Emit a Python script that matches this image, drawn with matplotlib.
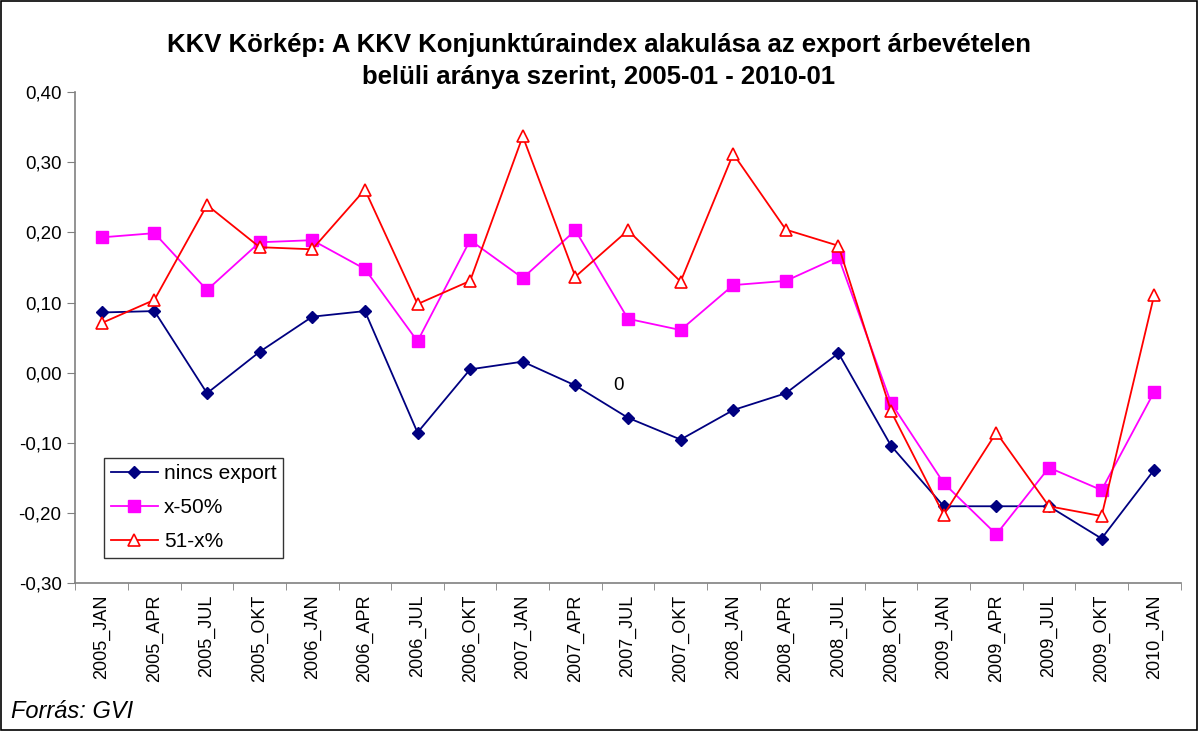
import matplotlib
matplotlib.use("Agg")
import matplotlib.pyplot as plt
from matplotlib.ticker import FixedLocator, FuncFormatter
from matplotlib.patches import Rectangle

plt.rcParams['font.family'] = ['Liberation Sans', 'DejaVu Sans']

categories = ["2005_JAN", "2005_APR", "2005_JUL", "2005_OKT", "2006_JAN", "2006_APR",
              "2006_JUL", "2006_OKT", "2007_JAN", "2007_APR", "2007_JUL", "2007_OKT",
              "2008_JAN", "2008_APR", "2008_JUL", "2008_OKT", "2009_JAN", "2009_APR",
              "2009_JUL", "2009_OKT", "2010_JAN"]

nincs_export = [0.086, 0.088, -0.029, 0.030, 0.080, 0.088, -0.085, 0.005, 0.016, -0.018,
                -0.064, -0.095, -0.053, -0.029, 0.028, -0.104, -0.190, -0.190, -0.190,
                -0.236, -0.138]
x_50 = [0.193, 0.199, 0.118, 0.186, 0.189, 0.148, 0.045, 0.189, 0.135, 0.203, 0.077,
        0.061, 0.125, 0.131, 0.165, -0.043, -0.157, -0.230, -0.135, -0.167, -0.027]
x_51 = [0.071, 0.104, 0.239, 0.179, 0.176, 0.261, 0.098, 0.131, 0.337, 0.137, 0.203,
        0.130, 0.312, 0.204, 0.181, -0.055, -0.202, -0.085, -0.190, -0.204, 0.111]

yticks = [-0.30, -0.20, -0.10, 0.00, 0.10, 0.20, 0.30, 0.40]

fig = plt.figure(figsize=(11.98, 7.31), dpi=100)
ax = fig.add_axes([0.063, 0.2018, 0.9224, 0.6723])

xs = list(range(len(categories)))
ax.plot(xs, nincs_export, color='#000080', lw=1.3, marker='D', ms=6.5,
        mfc='#000080', mec='#000080', label='nincs export', zorder=3)
ax.plot(xs, x_50, color='#FF00FF', lw=1.3, marker='s', ms=8,
        mfc='#FF00FF', mec='#FF00FF', label='x-50%', zorder=3)
ax.plot(xs, x_51, color='#FF0000', lw=1.3, marker='^', ms=9,
        mfc='white', mec='#FF0000', mew=1.2, label='51-x%', zorder=4)

ax.text(9.82, -0.018, "0", fontsize=13.5, ha='center', va='center')

ax.set_xlim(-0.5, len(categories) - 0.5)
ax.set_ylim(-0.30, 0.40)
ax.set_yticks(yticks)
ax.yaxis.set_major_formatter(FuncFormatter(lambda v, p: f"{v:.2f}".replace('.', ',').replace('-0,00', '0,00')))
ax.set_xticks(xs)
ax.set_xticklabels(categories, rotation=90, fontsize=13)
ax.xaxis.set_minor_locator(FixedLocator([i - 0.5 for i in range(len(categories) + 1)]))
ax.tick_params(axis='x', which='major', length=0, pad=8)
ax.tick_params(axis='x', which='minor', length=5, color='#808080', direction='out')
ax.tick_params(axis='y', length=6, color='#808080', labelsize=13.5, direction='out', pad=4)

for s in ['top', 'right']:
    ax.spines[s].set_visible(False)
for s in ['left', 'bottom']:
    ax.spines[s].set_color('#808080')
    ax.spines[s].set_linewidth(1.2)

leg = ax.legend(loc='lower left', bbox_to_anchor=(0.0258, 0.052), fontsize=15,
                frameon=True, fancybox=False, edgecolor='black', borderpad=0.33,
                labelspacing=0.71, handlelength=2.25, handletextpad=0.3,
                borderaxespad=0)
leg.get_frame().set_linewidth(1.0)

fig.text(0.5, 1 - 52 / 731, "KKV Körkép: A KKV Konjunktúraindex alakulása az export árbevételen",
         ha='center', va='baseline', fontsize=18.5, fontweight='bold')
fig.text(0.5, 1 - 84 / 731, "belüli aránya szerint, 2005-01 - 2010-01",
         ha='center', va='baseline', fontsize=18.5, fontweight='bold')
fig.text(0.009, 1 - 712 / 731, "Forrás: GVI", ha='left', va='center', fontsize=17, style='italic')

fig.patches.append(Rectangle((0.0008, 0.0012), 0.9984, 0.9976, transform=fig.transFigure,
                             fill=False, edgecolor='black', lw=1.2))

fig.savefig("out.png", dpi=100)
